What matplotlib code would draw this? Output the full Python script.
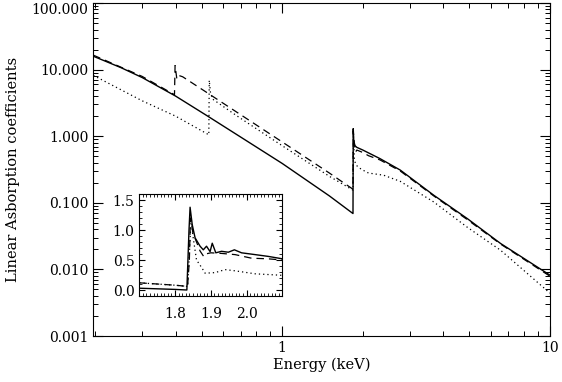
import matplotlib
matplotlib.use("Agg")
import matplotlib.pyplot as plt
from matplotlib.ticker import FormatStrFormatter, LogLocator, MultipleLocator, NullFormatter

plt.rcParams['font.family'] = ['DejaVu Serif']

# main panel data (energy in keV, absorption coefficient)
e_solid = [0.197, 0.25, 0.3, 0.4, 0.52, 0.7, 1.0, 1.5, 1.838, 1.842, 1.85, 1.87,
           1.9, 2.0, 2.32, 2.76, 3.68, 4.91, 6.54, 10.0]
mu_solid = [15.9, 10.7, 7.6, 4.0, 2.07, 0.97, 0.39, 0.127, 0.069, 1.3, 0.85, 0.72,
            0.68, 0.62, 0.46, 0.31, 0.13, 0.058, 0.0245, 0.0082]

e_dashed = [0.197, 0.3, 0.396, 0.398, 0.404, 0.41, 0.425, 0.52, 0.7, 1.0, 1.5, 1.838,
            1.842, 1.86, 1.88, 1.9, 2.0, 2.1, 2.32, 2.76, 3.68, 4.91, 6.54, 10.0]
mu_dashed = [16.5, 7.9, 4.2, 11.5, 7.3, 8.2, 7.8, 4.6, 2.1, 0.82, 0.28, 0.16,
             1.2, 0.75, 0.58, 0.62, 0.57, 0.51, 0.44, 0.30, 0.127, 0.056, 0.024, 0.0079]

e_dotted = [0.197, 0.3, 0.4, 0.532, 0.534, 0.54, 0.55, 0.646, 0.7, 1.0, 1.5, 1.838,
            1.845, 1.86, 1.88, 1.9, 1.95, 2.0, 2.1, 2.39, 2.76, 3.68, 4.91, 6.54, 10.0]
mu_dotted = [8.2, 3.4, 2.0, 1.05, 6.9, 4.4, 3.6, 2.3, 1.85, 0.72, 0.25, 0.155,
             1.0, 0.45, 0.38, 0.36, 0.33, 0.31, 0.28, 0.26, 0.21, 0.103, 0.043, 0.0194, 0.0044]

y_ticks = [0.001, 0.01, 0.1, 1, 10, 100]
y_ticklabels = ["0.001", "0.010", "0.100", "1.000", "10.000", "100.000"]

# inset data (zoom on the edge, linear scale)
ie_solid = [1.70, 1.75, 1.80, 1.833, 1.839, 1.842, 1.848, 1.856, 1.870, 1.879, 1.888,
            1.898, 1.904, 1.914, 1.930, 1.949, 1.966, 1.986, 2.024, 2.061, 2.10]
imu_solid = [0.03, 0.02, 0.01, 0.0, 1.0, 1.38, 1.09, 0.87, 0.73, 0.67, 0.73,
             0.64, 0.78, 0.62, 0.645, 0.63, 0.67, 0.62, 0.59, 0.56, 0.52]

ie_dashed = [1.70, 1.75, 1.80, 1.835, 1.840, 1.843, 1.85, 1.86, 1.87, 1.88, 1.885,
             1.90, 1.93, 1.968, 2.014, 2.06, 2.10]
imu_dashed = [0.12, 0.10, 0.08, 0.06, 0.5, 1.2, 0.95, 0.8, 0.65, 0.56, 0.6,
              0.62, 0.61, 0.59, 0.53, 0.52, 0.50]

ie_dotted = [1.70, 1.75, 1.80, 1.835, 1.840, 1.845, 1.85, 1.86, 1.875, 1.884,
             1.912, 1.94, 1.968, 2.024, 2.10]
imu_dotted = [0.12, 0.10, 0.08, 0.06, 0.6, 1.2, 0.9, 0.5, 0.37, 0.28,
              0.29, 0.34, 0.32, 0.27, 0.245]

fig = plt.figure(figsize=(5.62, 3.82), dpi=100)
ax = fig.add_axes([0.166, 0.1204, 0.8126, 0.8717])

ax.plot(e_solid, mu_solid, color='black', linestyle='-', lw=1.0)
ax.plot(e_dashed, mu_dashed, color='black', linestyle=(0, (6, 4)), lw=0.9)
ax.plot(e_dotted, mu_dotted, color='black', linestyle=(0, (1, 2.4)), lw=0.9)

ax.set_xscale('log')
ax.set_yscale('log')
ax.set_xlim(0.197, 10)
ax.set_ylim(0.001, 100)
ax.xaxis.set_major_formatter(FormatStrFormatter('%g'))
ax.xaxis.set_minor_formatter(NullFormatter())
ax.set_yticks(y_ticks, labels=y_ticklabels)
ax.yaxis.set_minor_locator(LogLocator(base=10, subs=range(2, 10), numticks=20))
ax.yaxis.set_minor_formatter(NullFormatter())
ax.tick_params(which='both', direction='in', top=True, right=True, labelsize=10)
ax.tick_params(which='major', length=7, width=0.8)
ax.tick_params(which='minor', length=3.5, width=0.7)
ax.get_yticklabels()[-1].set_va('top')
ax.set_xlabel("Energy (keV)", fontsize=10.5, labelpad=2)
ax.set_ylabel("Linear Asborption coefficients", fontsize=10.5, labelpad=8)

# inset
ins = fig.add_axes([0.2479, 0.2251, 0.2544, 0.267])
ins.plot(ie_solid, imu_solid, color='black', linestyle='-', lw=1.0)
ins.plot(ie_dashed, imu_dashed, color='black', linestyle=(0, (6, 4)), lw=0.9)
ins.plot(ie_dotted, imu_dotted, color='black', linestyle=(0, (1, 2.4)), lw=0.9)
ins.set_xlim(1.7, 2.1)
ins.set_ylim(-0.1, 1.6)
ins.xaxis.set_minor_locator(MultipleLocator(0.01))
ins.yaxis.set_major_locator(MultipleLocator(0.5))
ins.yaxis.set_minor_locator(MultipleLocator(0.1))
ins.set_xticks([1.8, 1.9, 2.0])
ins.xaxis.set_major_formatter(FormatStrFormatter('%.1f'))
ins.yaxis.set_major_formatter(FormatStrFormatter('%.1f'))
ins.tick_params(which='both', direction='in', top=True, right=True, labelsize=10)
ins.tick_params(which='major', length=4, width=0.8)
ins.tick_params(which='minor', length=2, width=0.6)
ins.tick_params(axis='x', pad=8)

fig.savefig("out.png", dpi=100)
